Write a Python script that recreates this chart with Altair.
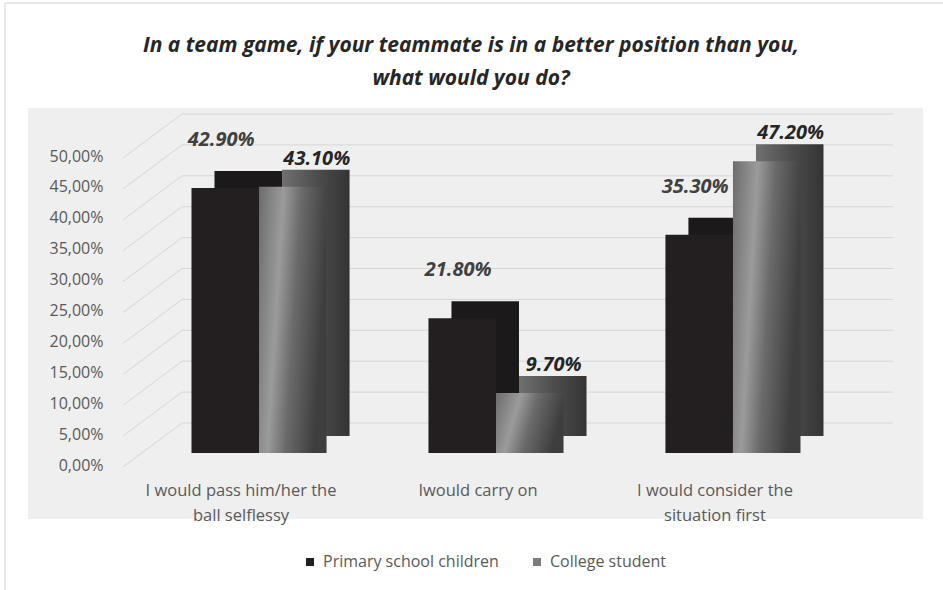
import altair as alt
import pandas as pd

# ---- data ----
categories = ["I would pass him/her the\nball selflessy", "Iwould carry on",
              "I would consider the\nsituation first"]
series = ["Primary school children", "College student"]
primary = [0.429, 0.218, 0.353]
college = [0.431, 0.097, 0.472]
yticks = [0.0, 0.05, 0.10, 0.15, 0.20, 0.25, 0.30, 0.35, 0.40, 0.45, 0.50]
title_lines = ["In a team game, if your teammate is in a better position than you,",
               "what would you do?"]

rows = []
for ci, cat in enumerate(categories):
    rows.append({"category": cat, "series": series[0], "value": primary[ci], "ci": ci, "si": 0})
    rows.append({"category": cat, "series": series[1], "value": college[ci], "ci": ci, "si": 1})
df = pd.DataFrame(rows)
cat_df = pd.DataFrame({"category": categories, "ci": list(range(len(categories)))})
tick_df = pd.DataFrame({"v": yticks})
one = pd.DataFrame({"k": [0]})

W = 0.285  # bar width in category units
FONT = "Open Sans"

xscale = alt.Scale(domain=[-0.975, 2.802], nice=False, zero=False)
yscale = alt.Scale(domain=[-0.1068, 0.5583], nice=False, zero=False)

bars = alt.Chart(df).transform_calculate(
    x0=f"datum.ci + (datum.si - 1) * {W}",
    x1=f"datum.ci + datum.si * {W}",
    xc=f"datum.ci + (datum.si - 0.5) * {W}",
)

X0 = alt.X("x0:Q", scale=xscale, axis=None)
X1 = alt.X2("x1:Q")
Y = alt.Y("value:Q", scale=yscale,
          axis=alt.Axis(values=yticks, labelExpr="replace(format(datum.value, '.2%'), '.', ',')",
                        domain=False, ticks=False, tickSize=0, grid=False,
                        labelAlign="right", labelPadding=-75, labelOffset=12,
                        labelFont=FONT, labelFontSize=16, labelColor="#595959", title=None))
Y2 = alt.Y2(datum=0)

grad_front = alt.LinearGradient(
    gradient="linear", x1=0, y1=0, x2=1, y2=0.25,
    stops=[alt.GradientStop(offset=0, color="#6c6c6c"),
           alt.GradientStop(offset=0.35, color="#9b9b9b"),
           alt.GradientStop(offset=0.6, color="#6a6a6a"),
           alt.GradientStop(offset=1, color="#3e3e3e")])
grad_back = alt.LinearGradient(
    gradient="linear", x1=0, y1=0, x2=1, y2=0,
    stops=[alt.GradientStop(offset=0, color="#707070"),
           alt.GradientStop(offset=0.5, color="#4e4e4e"),
           alt.GradientStop(offset=1, color="#343434")])

DX, DY = 23, -17

prim = bars.transform_filter("datum.si == 0")
coll = bars.transform_filter("datum.si == 1")

prim_back = prim.mark_bar(color="#1b191a", xOffset=DX, x2Offset=DX, yOffset=DY, y2Offset=DY).encode(
    x=X0, x2=X1, y=Y, y2=Y2)
prim_front = prim.mark_bar().encode(
    x=X0, x2=X1, y=Y, y2=Y2,
    color=alt.Color("series:N",
                    scale=alt.Scale(domain=series, range=["#231f20", "#7c7c7c"]),
                    legend=alt.Legend(orient="none", legendX=274, legendY=446,
                                      direction="horizontal", title=None,
                                      symbolType="square", symbolSize=64,
                                      symbolStrokeWidth=0, labelFont=FONT,
                                      labelFontSize=16, labelColor="#595959",
                                      labelLimit=400, columnPadding=30, labelOffset=5)))
coll_back = coll.mark_bar(color=grad_back, xOffset=DX, x2Offset=DX, yOffset=DY, y2Offset=DY).encode(
    x=X0, x2=X1, y=Y, y2=Y2)
coll_front = coll.mark_bar(color=grad_front).encode(x=X0, x2=X1, y=Y, y2=Y2)

label_prim = prim.mark_text(
    font=FONT, fontSize=20, fontStyle="italic", fontWeight="bold", color="#404040",
    dx=-4, dy=-48, baseline="middle"
).encode(x=alt.X("xc:Q", scale=xscale), y=alt.Y("value:Q", scale=yscale),
         text=alt.Text("value:Q", format=".2%"))

label_coll = coll.mark_text(
    font=FONT, fontSize=20, fontStyle="italic", fontWeight="bold", color="#262626",
    dx=24, dy=-28, baseline="middle"
).encode(x=alt.X("xc:Q", scale=xscale), y=alt.Y("value:Q", scale=yscale),
         text=alt.Text("value:Q", format=".2%"))

grid_h = alt.Chart(tick_df).mark_rule(color="#d6d6d6", strokeWidth=1, yOffset=-30).encode(
    y=alt.Y("v:Q", scale=yscale), x=alt.value(154), x2=alt.value(865))

grid_d = alt.Chart(tick_df).mark_rule(color="#d6d6d6", strokeWidth=1, yOffset=14, y2Offset=-30).encode(
    y=alt.Y("v:Q", scale=yscale), y2=alt.Y2("v:Q"), x=alt.value(95), x2=alt.value(154))

cat_labels = alt.Chart(cat_df).mark_text(
    font=FONT, fontSize=16.5, color="#595959", lineBreak="\n", lineHeight=25,
    baseline="top", align="center", dx=-18
).encode(x=alt.X("ci:Q", scale=xscale), y=alt.value(375), text="category:N")

title_style = dict(font=FONT, fontSize=21, fontStyle="italic", fontWeight="bold",
                   color="#262626", baseline="middle", align="center")
title1 = alt.Chart(one).mark_text(**title_style).encode(
    x=alt.value(443), y=alt.value(-62), text=alt.value(title_lines[0]))
title2 = alt.Chart(one).mark_text(**title_style).encode(
    x=alt.value(443), y=alt.value(-29), text=alt.value(title_lines[1]))

border = alt.Chart(one).mark_rect(
    fill=None, stroke="#d4d4d4", strokeWidth=1
).encode(x=alt.value(-23), x2=alt.value(960), y=alt.value(-105), y2=alt.value(620))

chart = alt.layer(
    border, title1, title2, grid_d, grid_h, prim_back, prim_front, coll_back, coll_front,
    label_prim, label_coll, cat_labels
).properties(
    width=895, height=411,
    autosize=alt.AutoSizeParams(type="none"),
    padding={"left": 28, "top": 108, "right": 20, "bottom": 71},
    background="white",
).configure_view(fill="#efefef", stroke=None)

chart.save("out.html", embed_options={"renderer": "svg", "actions": False})
